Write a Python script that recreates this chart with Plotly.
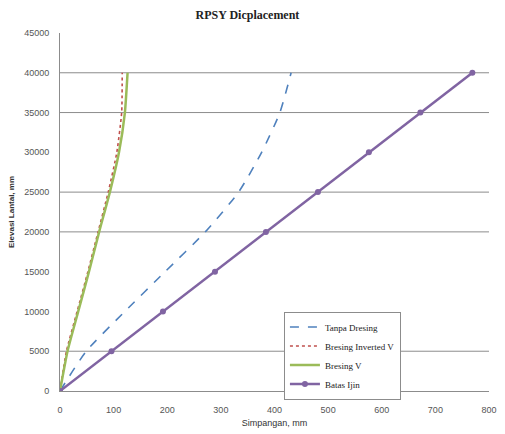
import plotly.graph_objects as go

elev = [0, 5000, 10000, 15000, 20000, 25000, 30000, 35000, 40000]
tanpa_dresing = [0, 49, 121, 196, 271, 333, 376, 410, 431]
bresing_inv_v = [0, 12, 32, 52, 71, 90, 106, 115, 116]
bresing_v = [0, 14, 34, 54, 73, 93, 110, 121, 126]
batas_ijin = [0, 96, 192, 289, 384, 481, 576, 672, 769]
grid_levels = [5000, 20000, 25000, 35000, 40000]

fig = go.Figure()
fig.add_trace(go.Scatter(x=tanpa_dresing, y=elev, mode="lines", name="Tanpa Dresing",
                         line=dict(color="#4F81BD", width=1.6, dash="dash", shape="spline", smoothing=0.6)))
fig.add_trace(go.Scatter(x=bresing_inv_v, y=elev, mode="lines", name="Bresing Inverted V",
                         line=dict(color="#C0504D", width=1.6, dash="dot", shape="spline", smoothing=0.5)))
fig.add_trace(go.Scatter(x=bresing_v, y=elev, mode="lines", name="Bresing V",
                         line=dict(color="#9BBB59", width=2.5, shape="spline", smoothing=0.5)))
fig.add_trace(go.Scatter(x=batas_ijin, y=elev, mode="lines+markers", name="Batas Ijin",
                         line=dict(color="#8064A2", width=2.5),
                         marker=dict(color="#8064A2", size=6, symbol="circle")))

for g in grid_levels:
    fig.add_shape(type="line", xref="paper", yref="y", x0=0, x1=1, y0=g, y1=g,
                  line=dict(color="#8C8C8C", width=1), layer="below")

fig.update_layout(
    width=505, height=434,
    margin=dict(l=60, r=8, t=33, b=41),
    paper_bgcolor="white", plot_bgcolor="white",
    title=dict(text="<b>RPSY Dicplacement</b>", x=0.49, xanchor="center", y=0.965, yanchor="middle",
               font=dict(family="Liberation Serif", size=12, color="#222")),
    legend=dict(x=0.522, y=0.222, xanchor="left", yanchor="top",
                bgcolor="white", bordercolor="#8C8C8C", borderwidth=1,
                font=dict(family="Liberation Serif", size=9, color="#222"),
                tracegroupgap=0, itemwidth=30),
    showlegend=True,
)
fig.update_xaxes(range=[0, 800], dtick=100, tick0=0, showgrid=False, zeroline=False,
                 showline=True, linecolor="#8C8C8C", linewidth=1, ticks="",
                 tickformat="d", ticklabelstandoff=10,
                 tickfont=dict(family="Liberation Sans", size=9, color="#555"),
                 title=dict(text="Simpangan, mm", font=dict(family="Liberation Sans", size=9, color="#333"),
                            standoff=5))
fig.update_yaxes(range=[0, 45000], dtick=5000, tick0=0, showgrid=False, zeroline=False,
                 showline=True, linecolor="#8C8C8C", linewidth=1, ticks="",
                 tickformat="d", ticklabelstandoff=8,
                 tickfont=dict(family="Liberation Sans", size=9, color="#555"),
                 title=dict(text="<b>Elevasi Lantai, mm</b>",
                            font=dict(family="Liberation Sans", size=8, color="#333"), standoff=8))

fig.write_html("out.html")
